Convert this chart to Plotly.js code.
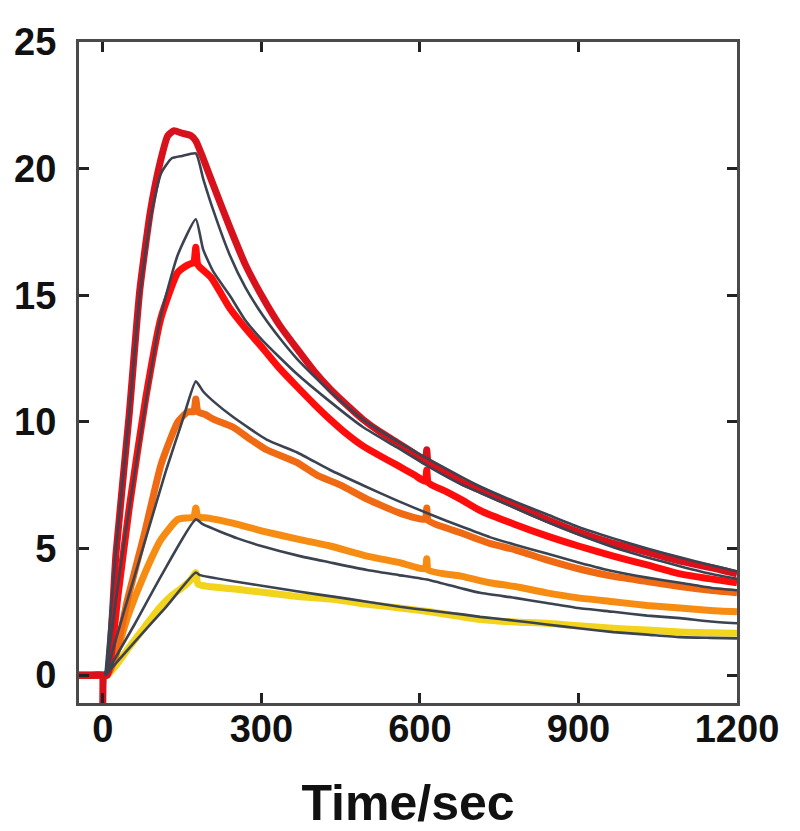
<!DOCTYPE html>
<html>
<head>
<meta charset="utf-8">
<script src="https://cdn.plot.ly/plotly-3.0.1.min.js"></script>
<style>html,body{margin:0;padding:0;background:#fff;}#chart{width:800px;height:831px;}</style>
</head>
<body>
<div id="chart"></div>
<script>
// ---- Data ----
const xTicks = [0, 300, 600, 900, 1200];
const yTicks = [0, 5, 10, 15, 20, 25];

// Measured responses
const d1t = [-45,-20,-2,0,2,8,25,50,70,90,108,123,135,150,167,176,190,210,240,270,303,335,367,400,430,460,492,525,556,590,610,613,616,650,681,714,780,840,900,966,1030,1092,1150,1200];
const d1v = [0,0,0,-1.1,0,0,4.8,10.3,15.2,18.3,20.2,21.3,21.5,21.4,21.3,21.1,20.4,19.3,17.7,16.2,14.9,13.8,12.9,12.0,11.3,10.7,10.1,9.6,9.2,8.75,8.45,8.9,8.4,8.0,7.6,7.3,6.7,6.15,5.65,5.2,4.85,4.5,4.25,4.0];

const d2t = [-45,-20,0,8,13,28,50,81,110,142,161,172,176,180,205,240,270,303,335,367,400,430,460,492,525,556,590,610,613,616,650,681,714,780,840,900,966,1030,1092,1150,1200];
const d2v = [0,0,0,0,0.3,3.0,6.6,10.9,14.1,15.9,16.2,16.3,16.9,16.2,15.7,14.5,13.7,12.9,12.1,11.4,10.7,10.1,9.55,9.05,8.65,8.3,7.9,7.65,8.1,7.6,7.25,6.9,6.5,5.95,5.5,5.1,4.7,4.35,4.0,3.8,3.65];

const d3t = [-45,-20,0,8,22,47,79,110,142,161,172,176,180,193,210,246,280,310,367,405,450,500,562,610,613,616,680,732,780,840,900,966,1030,1092,1150,1200];
const d3v = [0,0,0,0,0.6,3.0,5.6,8.3,10.0,10.4,10.4,10.9,10.4,10.3,10.1,9.8,9.3,8.9,8.4,7.9,7.5,6.95,6.4,6.15,6.6,6.1,5.6,5.2,4.95,4.55,4.2,3.9,3.7,3.5,3.35,3.25];

const d4t = [-45,-20,0,8,22,47,79,110,142,172,176,180,200,246,300,373,430,500,560,610,613,616,680,732,780,840,900,966,1030,1092,1150,1200];
const d4v = [0,0,0,0,0.6,2.3,4.0,5.35,6.15,6.25,6.6,6.25,6.2,6.0,5.7,5.35,5.1,4.7,4.45,4.2,4.6,4.15,3.9,3.65,3.5,3.25,3.05,2.9,2.75,2.65,2.55,2.5];

const d5t = [-45,-20,0,8,22,50,79,105,128,150,166,176,180,200,250,310,370,436,500,562,619,680,714,780,840,900,966,1030,1092,1150,1200];
const d5v = [0,0,0,0,0.3,1.1,1.9,2.6,3.1,3.45,3.75,4.05,3.6,3.5,3.4,3.25,3.1,3.0,2.8,2.65,2.5,2.3,2.2,2.1,2.05,1.95,1.85,1.78,1.7,1.67,1.65];

// Fitted curves
const f1t = [5,25,50,70,90,110,130,150,176,190,210,240,270,303,335,367,400,430,492,556,619,681,714,780,840,900,966,1030,1092,1150,1200];
const f1v = [0,5.0,10.3,15.0,18.0,19.8,20.4,20.5,20.6,19.6,18.3,16.6,15.3,14.2,13.3,12.5,11.8,11.2,10.1,9.25,8.5,7.8,7.45,6.85,6.35,5.85,5.4,5.0,4.65,4.35,4.1];

const f2t = [5,40,80,110,142,176,190,210,240,270,303,367,430,492,556,619,681,714,780,840,900,966,1030,1092,1150,1200];
const f2v = [0,5.2,10.6,14.2,16.6,18.0,16.8,15.9,15.0,14.0,13.2,11.9,10.8,9.8,9.0,8.2,7.5,7.2,6.6,6.05,5.55,5.05,4.65,4.3,4.0,3.8];

const f3t = [5,40,80,120,150,176,190,210,246,310,367,430,492,556,619,681,732,780,840,900,966,1030,1092,1150,1200];
const f3v = [0,2.5,5.3,8.1,10.0,11.6,11.2,10.8,10.2,9.3,8.8,8.1,7.5,6.9,6.35,5.85,5.45,5.15,4.8,4.45,4.1,3.85,3.65,3.45,3.35];

const f4t = [5,60,110,176,190,255,300,373,430,500,560,619,680,714,780,840,900,966,1030,1092,1150,1200];
const f4v = [0,2.0,3.9,6.15,5.95,5.4,5.1,4.7,4.45,4.15,3.95,3.75,3.42,3.25,3.05,2.85,2.65,2.5,2.35,2.25,2.12,2.05];

const f5t = [5,60,120,176,184,250,310,370,436,500,562,619,680,714,780,840,900,966,1030,1092,1150,1200];
const f5v = [0,1.3,2.7,4.05,3.95,3.7,3.5,3.3,3.1,2.9,2.7,2.55,2.4,2.3,2.15,2.0,1.85,1.7,1.6,1.5,1.47,1.45];

const dataColors = ['#d8121c', '#ff0d0d', '#ef6a12', '#f78c12', '#f2d41c'];
const fitColor = '#3c4350';

const dataSets = [[d1t,d1v],[d2t,d2v],[d3t,d3v],[d4t,d4v],[d5t,d5v]];
const fitSets = [[f1t,f1v],[f2t,f2v],[f3t,f3v],[f4t,f4v],[f5t,f5v]];

const traces = [];
for (let i = dataSets.length - 1; i >= 0; i--) {
  traces.push({x: dataSets[i][0], y: dataSets[i][1], type: 'scatter', mode: 'lines',
    line: {color: dataColors[i], width: 7, shape: 'spline', smoothing: 0.5}, hoverinfo: 'skip', showlegend: false});
}
for (let i = fitSets.length - 1; i >= 0; i--) {
  traces.push({x: fitSets[i][0], y: fitSets[i][1], type: 'scatter', mode: 'lines',
    line: {color: fitColor, width: 2.6, shape: 'spline', smoothing: 0.5}, hoverinfo: 'skip', showlegend: false});
}

const tickFont = {family: 'Liberation Sans, Arial, sans-serif', size: 38, color: '#111', weight: 'bold'};
const axisCommon = {
  showline: true, linecolor: '#4a4a4a', linewidth: 3, mirror: 'ticks',
  ticks: 'inside', ticklen: 10, tickwidth: 3, tickcolor: '#222',
  showgrid: false, zeroline: false, tickfont: tickFont
};

const layout = {
  width: 800, height: 831,
  margin: {l: 79, r: 63, t: 42, b: 128},
  paper_bgcolor: '#fff', plot_bgcolor: '#fff',
  xaxis: Object.assign({}, axisCommon, {
    range: [-45, 1200], tickmode: 'array', tickvals: xTicks, ticktext: xTicks.map(String),
    ticklabelstandoff: -10,
    title: {text: 'Time/sec', font: {family: 'Liberation Sans, Arial, sans-serif', size: 50, color: '#111', weight: 'bold'}, standoff: 40}
  }),
  yaxis: Object.assign({}, axisCommon, {
    range: [-1.1, 25], tickmode: 'array', tickvals: yTicks, ticktext: yTicks.map(String),
    ticklabelstandoff: 12
  })
};

Plotly.newPlot('chart', traces, layout, {staticPlot: true, displayModeBar: false});
</script>
</body>
</html>
